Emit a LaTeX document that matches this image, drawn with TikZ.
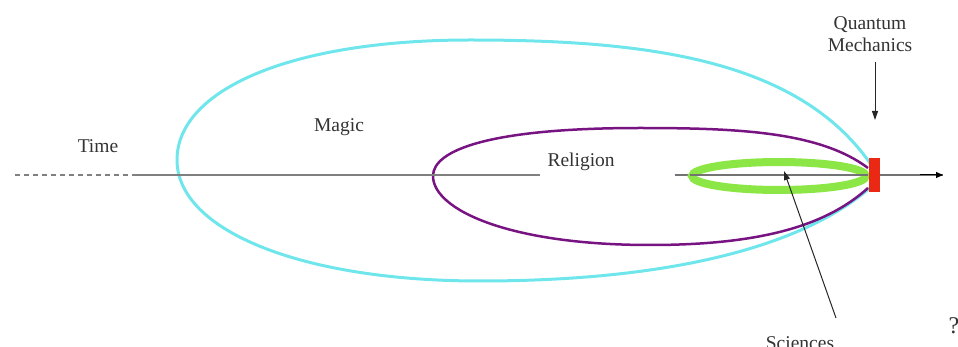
\documentclass[tikz,border=0pt]{standalone}
\usepackage{fontspec}
\setmainfont{Liberation Serif}
\usetikzlibrary{arrows.meta}
\definecolor{cyanl}{RGB}{110,230,235}
\definecolor{purp}{RGB}{120,20,130}
\definecolor{grn}{RGB}{140,230,70}
\definecolor{redq}{RGB}{235,40,20}
\begin{document}
\begin{tikzpicture}[x=1pt,y=-1pt,
  lbl/.style={font=\fontsize{19.5}{22}\selectfont, text=black!80},
  axis/.style={draw=black!50, line width=2pt},
  pointer/.style={draw=black!85, line width=1pt, -{Triangle[length=9pt,width=6pt]}}]
\useasboundingbox (0,0) rectangle (958,347);
% ellipses
\draw[cyanl, line width=3pt] (872,166) .. controls (800,60) and (650,40) .. (470,40)
  .. controls (290,40) and (177,90) .. (177,160)
  .. controls (177,230) and (300,281) .. (480,281)
  .. controls (660,281) and (800,250) .. (872,186);
\draw[purp, line width=2.5pt] (868,168) .. controls (820,132) and (740,128) .. (640,128)
  .. controls (490,128) and (433,150) .. (433,176)
  .. controls (433,210) and (510,245) .. (650,245)
  .. controls (770,245) and (830,222) .. (868,188);
% axis
\coordinate (d0) at (15,175);
\coordinate (d1) at (137,175);
\coordinate (s1) at (540,175);
\coordinate (r0) at (675,175);
\coordinate (r1) at (943,175);
\draw[axis, dash pattern=on 5pt off 4pt] (d0) -- (d1);
\draw[axis] (d1) -- (s1);
\draw[axis, draw=black!55, line width=1.5pt] (r0) -- (r1);
\draw[black, line width=1pt, -{Triangle[length=7pt,width=6pt]}] (920,175) -- (r1);
\draw[grn, line width=8pt] (779,176) ellipse (87 and 14);
\draw[axis, draw=black!55, line width=1.5pt] (690,175) -- (868,175);
\node[fill=redq, minimum width=11pt, minimum height=34pt, inner sep=0pt] (qm) at (874,175) {};
% labels
\node[lbl] (time) at (98,146) {Time};
\node[lbl] (magic) at (339,127) {Magic};
\node[lbl, anchor=west] (rel) at (544,162) {Religion};
\node[lbl, align=center] (quant) at (870,34) {Quantum\\Mechanics};
\node[lbl] (sci) at (800,343) {Sciences};
\node[lbl, font=\fontsize{24}{26}\selectfont] (q) at (954,326) {?};
\coordinate (qa) at (875,62);
\coordinate (qb) at (875,120);
\draw[pointer] (qa) -- (qb);
\coordinate (sa) at (836,318);
\coordinate (sb) at (784,171);
\draw[pointer] (sa) -- (sb);
\end{tikzpicture}
\end{document}
